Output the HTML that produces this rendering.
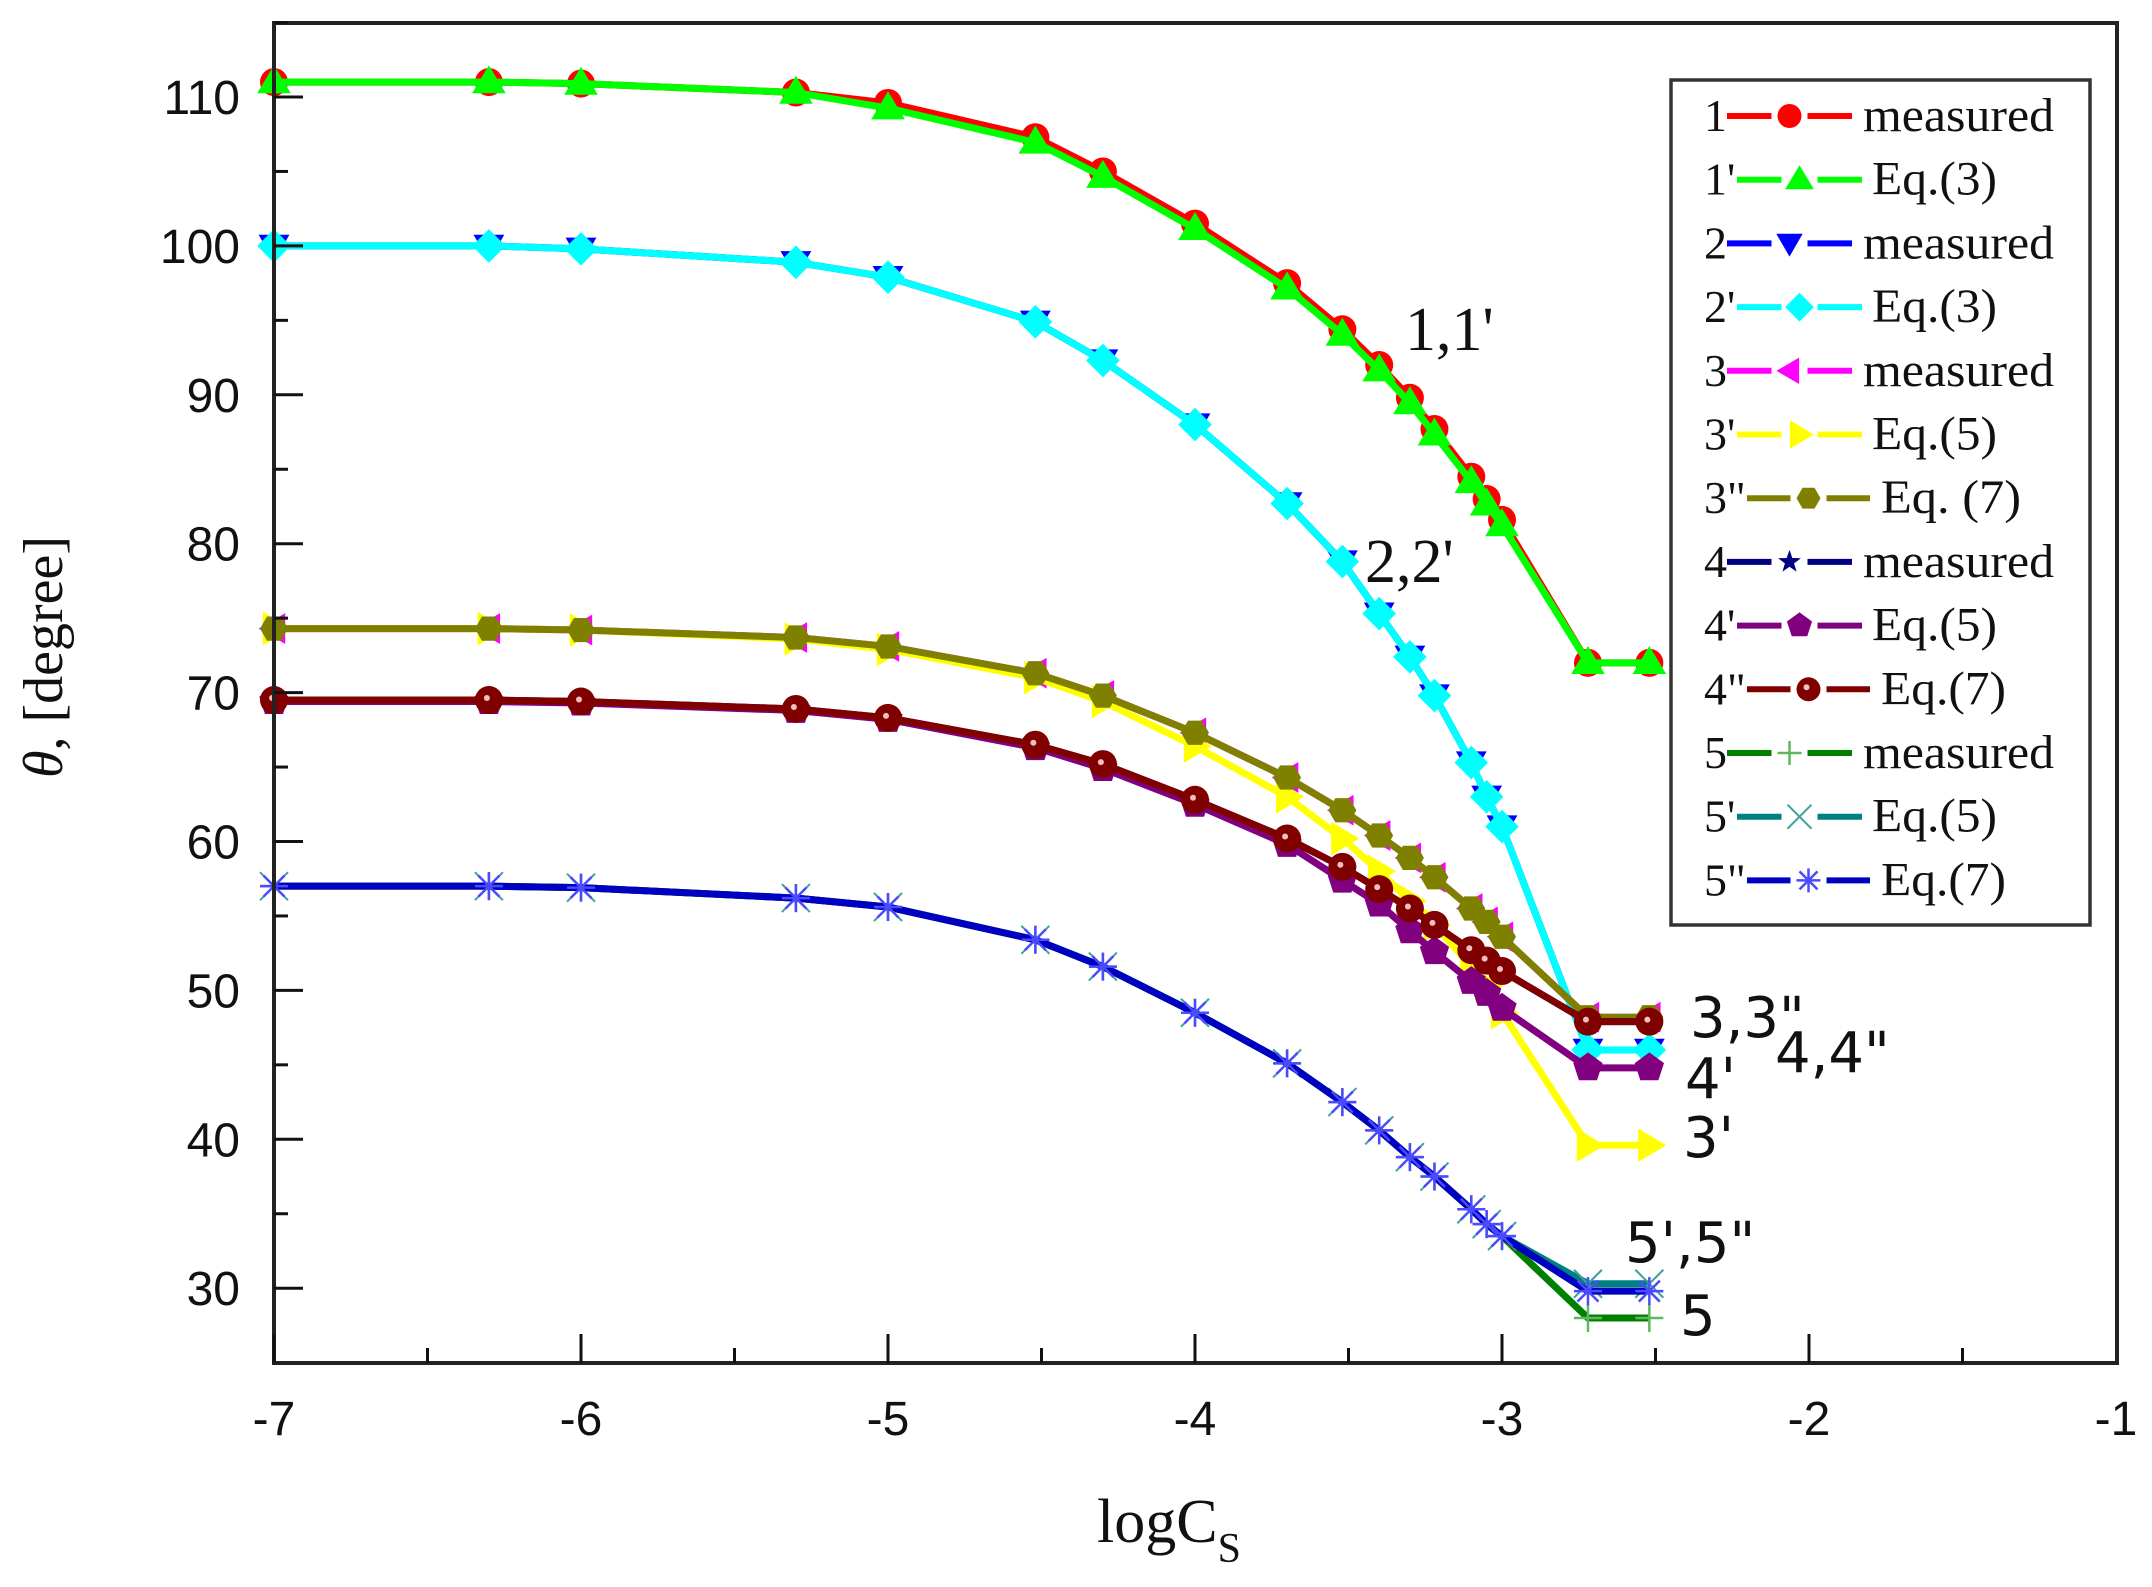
<!DOCTYPE html>
<html><head><meta charset="utf-8"><style>html,body{margin:0;padding:0;background:#fff}svg{display:block}</style></head>
<body>
<svg id="s" xmlns="http://www.w3.org/2000/svg" width="2152" height="1587" viewBox="0 0 2152 1587">
<rect width="2152" height="1587" fill="#fff"/>
<g id="plot"></g>
<rect x="274" y="23" width="1843" height="1340" fill="none" stroke="#222" stroke-width="4"/>
<g id="ticks" stroke="#111" stroke-width="3"></g>
<g font-family="Liberation Sans, sans-serif" font-size="48" fill="#111" id="tl"></g>
<text transform="translate(62,657) rotate(-90)" text-anchor="middle" font-family="Liberation Serif, serif" font-size="56" fill="#111"><tspan font-style="italic">θ</tspan>, [degree]</text>
<text x="1097" y="1542" font-family="Liberation Serif, serif" font-size="62" fill="#111">logC<tspan font-size="42" dy="20">S</tspan></text>
<g font-family="Liberation Serif, serif" font-size="62" fill="#111">
<text x="1405" y="350">1,1'</text>
<text x="1365" y="582">2,2'</text>
</g>
<g font-family="DejaVu Sans, sans-serif" font-size="56" fill="#111">
<text x="1690" y="1037">3,3"</text>
<text x="1775" y="1072">4,4"</text>
<text x="1685" y="1098">4'</text>
<text x="1683" y="1157">3'</text>
<text x="1625" y="1262">5',5"</text>
<text x="1680" y="1335">5</text>
</g>
<rect x="1671" y="80" width="419" height="845" fill="#fff" stroke="#333" stroke-width="3.5"/>
<g id="leg"></g>
</svg>
<script>
var NS="http://www.w3.org/2000/svg";
function el(p,t,a,txt){var e=document.createElementNS(NS,t);for(var k in a)e.setAttribute(k,a[k]);if(txt!==undefined)e.textContent=txt;p.appendChild(e);return e;}
function px(x){return 274+(x+7)*307;}
function py(v){return 97+(110-v)*14.89;}
var X=[-7,-6.3,-6,-5.3,-5,-4.52,-4.3,-4,-3.7,-3.52,-3.4,-3.3,-3.22,-3.1,-3.05,-3,-2.72,-2.52];
var s1=[111,111,110.9,110.3,109.6,107.3,105,101.5,97.5,94.4,92,89.8,87.7,84.5,83,81.6,72,72];
var s1b=s1.map(function(v,i){return i>3&&i<16?v-0.35:v;});
var s2=[100,100,99.8,98.9,97.9,94.9,92.3,88,82.7,78.8,75.3,72.4,69.8,65.3,63,61,46,46];
var s3=[74.3,74.3,74.2,73.7,73.1,71.3,69.8,67.3,64.3,62.1,60.4,58.9,57.6,55.5,54.6,53.6,48.2,48.2];
var s3b=[74.3,74.3,74.2,73.6,72.9,71,69.4,66.4,63,60.2,58,56,54.4,51.6,50.3,48.5,39.6,39.6];
var s4=[69.5,69.5,69.4,68.9,68.3,66.5,65.2,62.8,60.2,58.3,56.8,55.5,54.4,52.7,52,51.3,47.9,47.9];
var s4b=[69.4,69.4,69.3,68.8,68.2,66.3,64.9,62.5,59.8,57.4,55.8,54,52.6,50.6,49.8,48.8,44.8,44.8];
var s5=[57,57,56.9,56.2,55.6,53.4,51.6,48.5,45.1,42.5,40.6,38.8,37.5,35.3,34.3,33.5,29.8,29.8];
var s5m=s5.map(function(v,i){return i>=16?28:v;});
var s5t=s5.map(function(v,i){return i>=16?30.3:v;});
function marker(g,type,x,y,c,r){
 r=r||14;
 if(type=='circ')el(g,'circle',{cx:x,cy:y,r:r,fill:c});
 else if(type=='ball'){el(g,'circle',{cx:x,cy:y,r:r,fill:c});el(g,'circle',{cx:x-2,cy:y-2,r:3,fill:'#f0c0c0'});}
 else if(type=='tri')el(g,'polygon',{points:(x)+','+(y-r*1.2)+' '+(x+r*1.2)+','+(y+r*0.8)+' '+(x-r*1.2)+','+(y+r*0.8),fill:c});
 else if(type=='tdn')el(g,'polygon',{points:(x)+','+(y+r*1.1)+' '+(x+r*1.1)+','+(y-r*0.8)+' '+(x-r*1.1)+','+(y-r*0.8),fill:c});
 else if(type=='dia')el(g,'polygon',{points:x+','+(y-r*1.2)+' '+(x+r*1.2)+','+y+' '+x+','+(y+r*1.2)+' '+(x-r*1.2)+','+y,fill:c});
 else if(type=='tl')el(g,'polygon',{points:(x-r*1.1)+','+y+' '+(x+r*0.8)+','+(y-r*1.1)+' '+(x+r*0.8)+','+(y+r*1.1),fill:c});
 else if(type=='tr')el(g,'polygon',{points:(x+r*1.2)+','+y+' '+(x-r*0.8)+','+(y-r*1.2)+' '+(x-r*0.8)+','+(y+r*1.2),fill:c});
 else if(type=='hex'){var p=[];for(var i=0;i<6;i++){var a=Math.PI/3*i;p.push((x+r*Math.cos(a))+','+(y+r*Math.sin(a)));}el(g,'polygon',{points:p.join(' '),fill:c});}
 else if(type=='pent'){var p=[];for(var i=0;i<5;i++){var a=-Math.PI/2+2*Math.PI/5*i;p.push((x+r*1.1*Math.cos(a))+','+(y+r*1.1*Math.sin(a)));}el(g,'polygon',{points:p.join(' '),fill:c});}
 else if(type=='star'){var p=[];for(var i=0;i<10;i++){var a=-Math.PI/2+Math.PI/5*i;var rr=i%2?r*0.4:r;p.push((x+rr*Math.cos(a))+','+(y+rr*Math.sin(a)));}el(g,'polygon',{points:p.join(' '),fill:c});}
 else if(type=='plus'){el(g,'path',{d:'M'+(x-r)+' '+y+'H'+(x+r)+'M'+x+' '+(y-r)+'V'+(y+r),stroke:'#5fb85f','stroke-width':2.5});}
 else if(type=='x'){el(g,'path',{d:'M'+(x-r)+' '+(y-r)+'L'+(x+r)+' '+(y+r)+'M'+(x-r)+' '+(y+r)+'L'+(x+r)+' '+(y-r),stroke:'#40a0a0','stroke-width':2});}
 else if(type=='ast'){el(g,'path',{d:'M'+(x-r)+' '+y+'H'+(x+r)+'M'+x+' '+(y-r)+'V'+(y+r)+'M'+(x-r*0.75)+' '+(y-r*0.75)+'L'+(x+r*0.75)+' '+(y+r*0.75)+'M'+(x-r*0.75)+' '+(y+r*0.75)+'L'+(x+r*0.75)+' '+(y-r*0.75),stroke:'#4a4aff','stroke-width':2.5});}
}
var S=[
 ['1','measured',s1,'#ff0000','circ'],
 ["1'",'Eq.(3)',s1b,'#00ff00','tri'],
 ['2','measured',s2,'#0000ff','tdn'],
 ["2'",'Eq.(3)',s2,'#00ffff','dia'],
 ['3','measured',s3,'#ff00ff','tl'],
 ["3'",'Eq.(5)',s3b,'#ffff00','tr'],
 ['3"','Eq. (7)',s3,'#808000','hex'],
 ['4','measured',s4,'#000080','star'],
 ["4'",'Eq.(5)',s4b,'#800080','pent'],
 ['4"','Eq.(7)',s4,'#800000','ball'],
 ['5','measured',s5m,'#008000','plus'],
 ["5'",'Eq.(5)',s5t,'#008080','x'],
 ['5"','Eq.(7)',s5,'#0000c0','ast']
];
var plot=document.getElementById('plot');
S.forEach(function(s){
 var pts=X.map(function(x,i){return px(x)+','+py(s[2][i]);}).join(' ');
 el(plot,'polyline',{points:pts,fill:'none',stroke:s[3],'stroke-width':7,'stroke-linejoin':'round'});
 X.forEach(function(x,i){marker(plot,s[4],px(x),py(s[2][i]),s[3]);});
});
var tk=document.getElementById('ticks'),tl=document.getElementById('tl');
for(var x=-7;x<=-1.01;x+=0.5){var major=Math.abs(x-Math.round(x))<0.01;var xx=px(x);
 el(tk,'line',{x1:xx,y1:1363,x2:xx,y2:1363-(major?29:15)});}
for(var x=-7;x<=-1;x++){el(tl,'text',{x:px(x),y:1435,'text-anchor':'middle'},String(x));}
for(var v=30;v<=115;v+=5){var yy=py(v);el(tk,'line',{x1:274,y1:yy,x2:274+(v%10==0?29:14),y2:yy});}
for(var v=30;v<=110;v+=10){el(tl,'text',{x:240,y:py(v)+17,'text-anchor':'end'},String(v));}
var leg=document.getElementById('leg');
S.forEach(function(s,i){
 var y=116+i*63.7;var meas=s[1]=='measured';var dbl=s[0].indexOf('"')>=0;
 var x0=meas?1727:(dbl?1747:1737), x1=meas?1852:(dbl?1870:1862), tx=meas?1863:(dbl?1881:1872);
 el(leg,'text',{x:1704,y:y+15,'font-family':'Liberation Serif, serif','font-size':46,fill:'#111'},s[0]);
 el(leg,'line',{x1:x0,y1:y,x2:x1,y2:y,stroke:s[3],'stroke-width':6});
 el(leg,'rect',{x:(x0+x1)/2-18,y:y-8,width:36,height:16,fill:'#fff'});
 marker(leg,s[4],(x0+x1)/2,y,s[3],12);
 var w=meas?191:(s[1]=='Eq. (7)'?140:125);
 el(leg,'text',{x:tx,y:y+15,'font-family':'Liberation Serif, serif','font-size':48,fill:'#111',textLength:w,lengthAdjust:'spacingAndGlyphs'},s[1]);
});
</script>
</body></html>
